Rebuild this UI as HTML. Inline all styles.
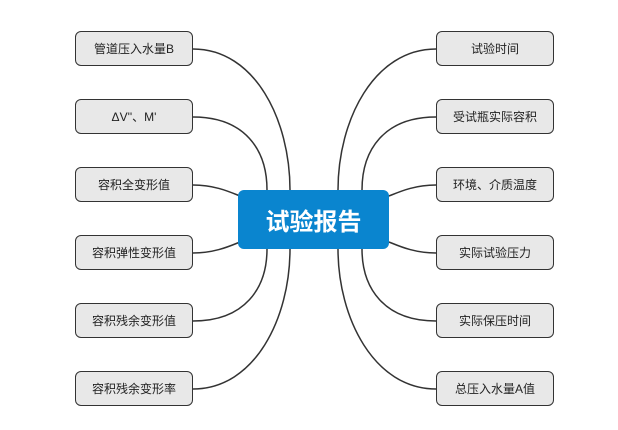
<!DOCTYPE html>
<html><head><meta charset="utf-8"><style>
body{margin:0;background:#fff;width:618px;height:430px;overflow:hidden;position:relative;font-family:"Liberation Sans","Noto Sans CJK SC",sans-serif}
.b{position:absolute;width:118px;height:35px;border:1.8px solid #333;border-radius:6px;background:#e8e8e8;font-size:12px;color:#222;display:flex;align-items:center;justify-content:center;box-sizing:border-box}
.c{position:absolute;left:238px;top:190px;width:151px;height:59px;background:#0a85cf;border-radius:6px;color:#fff;font-weight:bold;font-size:24px;display:flex;align-items:center;justify-content:center}
</style></head><body>
<svg width="618" height="430" style="position:absolute;left:0;top:0" fill="none" stroke="#333" stroke-width="1.5">
<path d="M193,49 C255,49 290,120 290,190"/>
<path d="M193,117 C245,117 267,150 267,190"/>
<path d="M193,185 C215,185 230,192 240,196"/>
<path d="M193,253 C215,253 230,246 240,242"/>
<path d="M193,321 C245,321 267,288 267,249"/>
<path d="M193,389 C255,389 290,318 290,249"/>
<path d="M436,49 C374,49 338,120 338,190"/>
<path d="M436,117 C384,117 362,150 362,190"/>
<path d="M436,185 C414,185 399,192 389,196"/>
<path d="M436,253 C414,253 399,246 389,242"/>
<path d="M436,321 C384,321 362,288 362,249"/>
<path d="M436,389 C374,389 338,318 338,249"/>
</svg>
<div class="c">试验报告</div>
<div class="b" style="left:75px;top:31px">管道压入水量B</div>
<div class="b" style="left:75px;top:99px">ΔV''、M'</div>
<div class="b" style="left:75px;top:167px">容积全变形值</div>
<div class="b" style="left:75px;top:235px">容积弹性变形值</div>
<div class="b" style="left:75px;top:303px">容积残余变形值</div>
<div class="b" style="left:75px;top:371px">容积残余变形率</div>
<div class="b" style="left:436px;top:31px">试验时间</div>
<div class="b" style="left:436px;top:99px">受试瓶实际容积</div>
<div class="b" style="left:436px;top:167px">环境、介质温度</div>
<div class="b" style="left:436px;top:235px">实际试验压力</div>
<div class="b" style="left:436px;top:303px">实际保压时间</div>
<div class="b" style="left:436px;top:371px">总压入水量A值</div>
</body></html>
